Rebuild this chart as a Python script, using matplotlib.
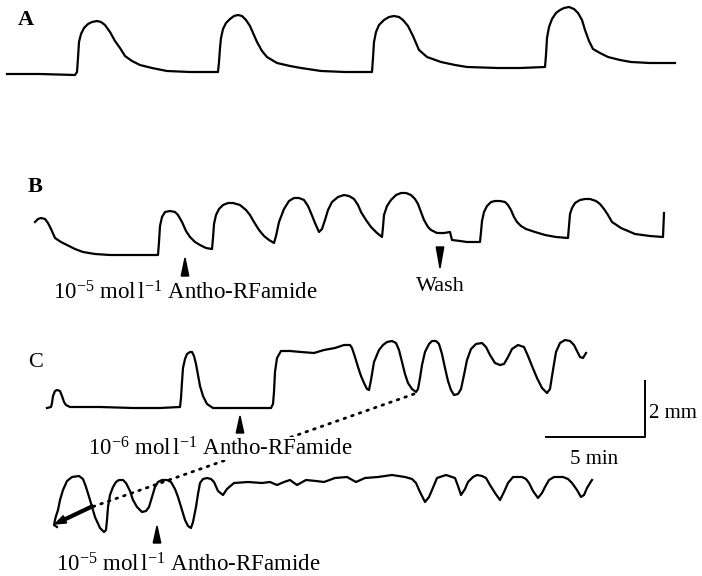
import matplotlib
matplotlib.use("Agg")
import matplotlib.pyplot as plt

plt.rcParams["font.family"] = ["Liberation Serif", "DejaVu Serif"]
plt.rcParams["mathtext.fontset"] = "custom"
plt.rcParams["mathtext.rm"] = "Liberation Serif"
plt.rcParams["mathtext.it"] = "Liberation Serif:italic"

# traces (x = time, y = position on the page)
a_x = [7, 40, 75, 77, 78, 79, 81, 84, 88, 92, 97, 101, 105, 110, 115, 120, 125, 132, 140, 152, 167, 190, 218,
       219, 220, 221, 223, 226, 230, 234, 238, 242, 246, 250, 257, 262, 267, 277, 290, 301, 321, 345, 372,
       373, 374, 376, 379, 384, 389, 394, 399, 403, 408, 413, 419, 427, 441, 455, 467, 498, 520, 545,
       546, 547, 549, 552, 556, 560, 564, 569, 574, 578, 582, 585, 589, 593, 600, 608, 620, 631, 650, 675]
a_y = [74, 74, 75, 72, 58, 42, 34, 28, 24, 22, 21, 22, 25, 32, 41, 48, 56, 61, 65, 68, 71, 72, 72,
       62, 48, 38, 29, 23, 19, 16, 15, 16, 20, 26, 42, 51, 57, 63, 66, 68, 71, 72, 72,
       58, 42, 32, 25, 20, 17, 16, 17, 20, 26, 36, 50, 57, 62, 65, 67, 68, 68, 67,
       55, 38, 27, 19, 13, 10, 8, 7, 9, 13, 20, 30, 41, 49, 53, 57, 60, 62, 63, 63]

b_x = [35, 38, 41, 45, 48, 51, 55, 61, 67, 75, 83, 95, 110, 135, 158, 159, 160, 162, 165, 170, 175, 178,
       182, 186, 190, 195, 200, 206, 212, 213, 214, 216, 219, 223, 228, 233, 240, 246, 250, 254, 259, 264,
       269, 274, 276, 279, 284, 289, 294, 299, 304, 308, 311, 315, 319, 322, 325, 328, 332, 338, 344, 349,
       354, 358, 361, 366, 371, 377, 382, 383, 384, 387, 391, 396, 401, 406, 411, 415, 418, 421, 424, 428,
       431, 437, 444, 450, 451, 452, 460, 467, 475, 480, 481, 482, 484, 487, 491, 495, 500, 505, 508, 511,
       514, 517, 521, 526, 535, 545, 556, 568, 569, 570, 572, 575, 580, 585, 590, 596, 600, 604, 608, 612,
       621, 635, 650, 663, 664]
b_y = [222, 219, 218, 219, 223, 229, 238, 242, 245, 249, 252, 254, 255, 255, 255, 242, 226, 217, 212, 211, 212, 215,
       222, 231, 237, 242, 245, 248, 249, 238, 224, 215, 209, 205, 203, 203, 205, 210, 215, 222, 230, 236,
       240, 243, 236, 222, 209, 201, 198, 198, 200, 206, 213, 223, 232, 229, 220, 210, 202, 197, 195, 196,
       199, 205, 212, 220, 227, 233, 237, 227, 215, 206, 200, 195, 193, 193, 195, 199, 204, 212, 220, 227,
       230, 233, 233, 232, 236, 240, 241, 242, 242, 242, 232, 221, 212, 206, 202, 201, 201, 202, 205, 210,
       217, 222, 226, 229, 232, 235, 237, 238, 226, 214, 208, 203, 200, 199, 199, 201, 204, 209, 215, 222,
       228, 234, 236, 237, 213]

c1_x = [47, 51, 52, 53, 55, 57, 60, 62, 64, 66, 70, 80, 100, 133, 160, 180, 181, 182, 183, 185, 187, 190,
        192, 194, 196, 198, 200, 203, 207, 213, 240, 271, 273, 274, 275, 277, 281, 290, 301, 314, 324, 335,
        344, 350, 352, 355, 358, 361, 364, 367, 369, 371, 374, 379, 383, 387, 392, 396, 399, 402, 405, 408,
        412, 416, 418, 420, 422, 425, 429, 432, 436, 439, 442, 445, 448, 451, 454, 458, 461, 464, 467, 471,
        476, 482, 486, 490, 495, 500, 504, 508, 512, 518, 524, 528, 532, 537, 542, 547, 550, 553, 556, 560,
        565, 570, 574, 577, 580, 583, 586]
c1_y = [408, 407, 403, 396, 391, 390, 391, 396, 402, 405, 407, 407, 407, 408, 408, 407, 398, 382, 368, 359, 354, 352,
        352, 356, 364, 375, 386, 396, 404, 408, 408, 408, 404, 392, 372, 358, 351, 351, 352, 353, 350, 348,
        345, 345, 348, 357, 367, 376, 383, 389, 390, 380, 362, 350, 345, 342, 341, 343, 350, 362, 374, 383,
        389, 392, 389, 378, 365, 352, 344, 341, 341, 344, 354, 368, 381, 390, 395, 394, 389, 375, 360, 349,
        344, 343, 347, 355, 363, 365, 364, 357, 349, 345, 347, 356, 366, 378, 388, 393, 389, 370, 352, 343,
        340, 341, 345, 351, 357, 358, 353]

c2_x = [57, 54, 55, 56, 58, 60, 63, 67, 72, 79, 83, 86, 90, 95, 100, 104, 106, 107, 108, 110, 113, 116,
        119, 123, 126, 130, 133, 137, 142, 146, 149, 152, 155, 158, 162, 167, 171, 175, 178, 182, 185, 188,
        191, 193, 196, 198, 200, 203, 207, 211, 214, 218, 223, 227, 234, 248, 262, 270, 277, 284, 290, 297,
        306, 316, 324, 335, 347, 356, 365, 378, 392, 405, 412, 416, 420, 425, 429, 432, 437, 446, 455, 458,
        461, 465, 468, 473, 477, 482, 486, 490, 495, 500, 504, 508, 513, 522, 526, 529, 533, 538, 542, 545,
        549, 554, 563, 568, 572, 577, 581, 584, 587, 590, 592]
c2_y = [527, 525, 520, 516, 510, 500, 490, 481, 477, 476, 479, 487, 500, 517, 528, 532, 530, 520, 507, 495, 487, 482,
        480, 480, 483, 491, 500, 507, 512, 511, 507, 497, 487, 482, 480, 480, 482, 489, 497, 510, 520, 526,
        528, 522, 507, 494, 483, 479, 478, 479, 482, 491, 495, 489, 483, 482, 483, 482, 485, 482, 480, 485,
        480, 481, 482, 478, 477, 482, 478, 477, 475, 477, 479, 483, 492, 502, 497, 490, 478, 475, 478, 486,
        495, 489, 482, 477, 475, 476, 478, 485, 493, 500, 492, 483, 477, 477, 479, 483, 491, 498, 493, 487,
        480, 477, 477, 479, 483, 490, 497, 495, 488, 483, 480]

# dotted link from end of upper C trace to start of lower C trace
link_x = [414, 92]
link_y = [394, 507]

# arrowheads: x, tip y, base y
marks = [(185, 258, 276), (440, 268, 247), (240, 416, 433), (157, 526, 543)]

fig = plt.figure(figsize=(7.02, 5.76), dpi=100)
ax = fig.add_axes([0, 0, 1, 1])
ax.set_xlim(0, 702)
ax.set_ylim(576, 0)
ax.axis("off")

for xs, ys in [(a_x, a_y), (b_x, b_y), (c1_x, c1_y), (c2_x, c2_y)]:
    ax.plot(xs, ys, color="black", lw=1.6, solid_joinstyle="round", zorder=3)

ax.plot(link_x, link_y, color="black", lw=2.0, ls=(0, (0.6, 2.3)),
        dash_capstyle="round", zorder=2)
ax.arrow(93, 506, -38, 18, width=2.8, head_width=8, head_length=11,
         length_includes_head=True, color="black", zorder=4)

for x, tip, base in marks:
    ax.arrow(x, base, 0, tip - base, width=0.01, head_width=7.5,
             head_length=abs(tip - base), length_includes_head=True,
             color="black", zorder=6)

# scale bars
ax.plot([546, 645, 645], [437, 437, 381], color="black", lw=1.4)
ax.text(649, 418, "2 mm", fontsize=15, va="baseline", ha="left")
ax.text(594, 464, "5 min", fontsize=15, va="baseline", ha="center")

ax.text(18, 25, "A", fontsize=16, fontweight="bold", va="baseline")
ax.text(28, 192, "B", fontsize=16, fontweight="bold", va="baseline")
ax.text(28, 367, "C", fontsize=16, va="baseline")

lab = "Antho-RFamide"
ax.text(53, 300, "10$^{-5}$ mol$\\,$l$^{-1}$ " + lab, fontsize=16.5, va="baseline")
ax.text(440, 291, "Wash", fontsize=16, va="baseline", ha="center")
ax.text(88, 455, "10$^{-6}$ mol$\\,$l$^{-1}$ " + lab, fontsize=16.5, va="baseline", zorder=5,
        bbox=dict(facecolor="white", edgecolor="none", pad=0))
ax.text(56, 571, "10$^{-5}$ mol$\\,$l$^{-1}$ " + lab, fontsize=16.5, va="baseline")

fig.savefig("out.png", dpi=100)
